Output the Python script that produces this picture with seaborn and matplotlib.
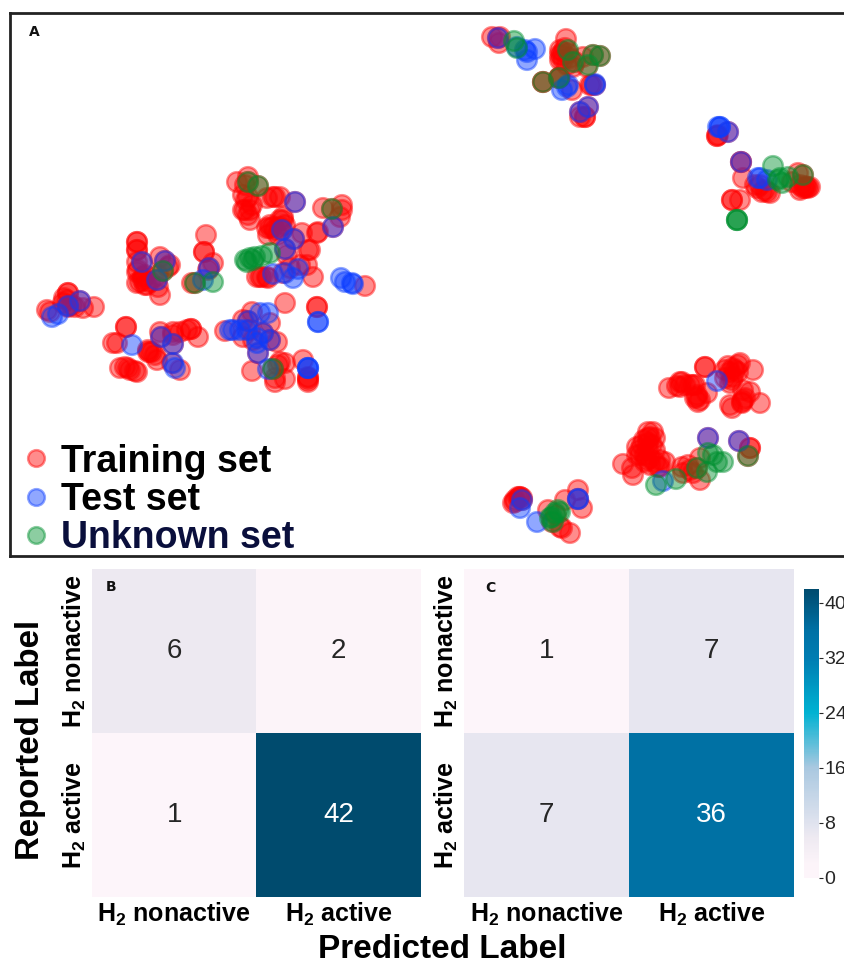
import numpy as np
import pandas as pd
import seaborn as sns
import matplotlib.pyplot as plt
from matplotlib.colors import LinearSegmentedColormap

# embedding coordinates
train_pts = [(47,310),(50,312),(68,293),(67,300),(63,303),(75,307),(83,308),(94,307),(68,307),(68,293),(64,298),(72,305),
    (126,327),(126,327),(117,343),(113,343),(120,368),(128,368),(137,372),(152,352),(148,350),(157,360),(160,332),(173,335),(191,329),(191,329),(198,337),(180,332),(180,370),(172,363),(150,352),(155,355),(148,352),(125,367),(130,370),(135,371),(161,337),(173,344),(173,332),(187,330),
    (137,242),(137,242),(137,250),(137,250),(137,262),(138,270),(137,283),(143,280),(147,285),(160,257),(170,265),(158,287),(160,295),(168,267),(143,277),(140,282),(145,275),(150,282),(145,285),(137,272),(142,262),(165,261),(157,280),(158,275),
    (206,235),(204,252),(204,252),(213,263),(192,283),(208,270),(209,268),(195,283),(163,271),
    (237,182),(248,177),(245,185),(248,197),(243,210),(250,210),(250,220),(273,197),(280,197),(267,198),(283,217),(273,227),(270,228),(280,227),(283,220),(267,228),(302,233),(317,233),(323,208),(342,205),(340,217),(310,250),(308,250),(287,255),(307,265),(313,277),(260,277),(267,277),(257,277),(283,273),
    (245,210),(248,215),(252,205),(243,195),(246,200),(275,197),(270,225),(275,230),(278,235),(285,225),(268,235),(280,220),(262,277),(268,278),(248,182),(258,186),(332,209),(295,202),(282,230),(294,239),(285,249),(333,227),(318,232),(342,210),(290,268),(300,265),
    (285,303),(225,331),(252,312),(243,320),(270,323),(243,337),(277,342),(253,340),(252,371),(285,363),(278,365),(275,382),(275,378),(285,379),(303,360),(308,377),(308,382),(308,380),(308,378),(317,307),(317,307),(365,286),(248,321),(270,340),(258,353),(273,369),(280,362),(250,330),(263,333),(80,301),(68,306),
    (492,37),(500,37),(499,43),(498,38),(566,39),(563,52),(560,60),(568,53),(573,67),(563,60),(560,50),(583,57),(587,67),(592,85),(590,85),(572,90),(560,77),(585,117),(580,117),(585,117),(565,48),(562,55),(570,58),(575,62),(567,65),(560,55),(543,82),(543,82),(559,78),(559,78),(600,56),(593,55),(588,107),(580,112),(595,85),
    (743,178),(717,136),(718,135),(717,136),(732,200),(732,200),(740,200),(757,188),(762,192),(767,192),(798,173),(807,187),(808,188),(803,188),(792,182),(741,162),(741,162),(760,185),(765,190),(755,185),(770,193),(805,188),(805,186),(800,185),(810,187),(800,190),(803,175),(728,132),
    (669,388),(677,386),(682,382),(680,387),(693,385),(705,367),(705,367),(698,402),(697,397),(707,393),(725,370),(733,368),(738,365),(740,363),(733,377),(730,383),(753,370),(732,408),(730,405),(743,390),(750,392),(742,403),(743,400),(760,403),(725,378),(730,372),(735,370),(738,372),(728,366),(732,380),(742,402),(745,398),(695,385),(690,385),(685,385),(680,382),(697,395),(700,400),(695,398),
    (623,464),(632,468),(633,475),(648,438),(648,443),(655,438),(640,450),(637,455),(647,460),(650,465),(660,460),(658,467),(682,467),(683,473),(693,473),(700,480),(700,458),(750,448),(750,448),(739,441),(708,438),(697,468),(748,456),
    (642,445),(648,450),(645,455),(652,445),(655,450),(650,458),(640,455),(655,462),(645,462),(648,432),(653,432),(637,447),(660,467),(665,462),(644,440),(650,437),(690,470),(688,465),
    (520,497),(515,502),(513,503),(520,497),(578,490),(582,508),(565,500),(570,533),(560,527),(562,528),(548,510),(522,498),(515,500),(518,497),(556,515),(578,499),(522,500),(552,522)]
test_pts = [(52,317),(58,314),(68,306),(80,301),(132,345),(161,337),(173,344),(173,363),(175,368),(142,262),(165,261),(157,280),(209,268),(203,280),
    (295,202),(282,230),(294,239),(285,249),(333,227),(298,269),(285,273),(273,274),(293,278),(341,278),(345,282),(353,284),(352,283),
    (230,330),(233,330),(240,330),(248,321),(260,313),(268,313),(247,330),(257,338),(263,333),(270,340),(257,343),(258,353),(318,322),(318,322),(308,368),(308,368),(308,368),(268,369),
    (498,38),(517,47),(525,50),(535,49),(527,60),(527,52),(568,85),(562,90),(567,87),(595,85),(595,84),(588,107),(580,112),
    (720,127),(720,127),(718,127),(728,132),(741,162),(760,178),(758,178),(767,180),
    (717,381),(663,481),(708,438),(739,441),(522,500),(520,508),(537,522),(578,499),(578,499)]
unknown_pts = [(248,182),(258,186),(332,209),(163,271),(195,283),(213,282),(270,253),(247,262),(250,258),(255,257),(262,256),(253,260),(245,260),(273,369),
    (514,41),(517,48),(568,50),(573,62),(588,65),(593,55),(600,56),(543,82),(559,78),(737,220),(737,220),(737,220),(773,166),(780,178),(782,183),(778,180),(788,177),(803,175),
    (656,485),(676,479),(697,468),(707,472),(708,453),(713,455),(717,462),(723,462),(748,456),(550,518),(555,513),(558,510),(552,517),(560,512),(553,522)]

set_names = ['Training set', 'Test set', 'Unknown set']
set_colors = ['#ff0000', '#0a3cff', '#009030']

cm_b = [[6, 2], [1, 42]]
cm_c = [[1, 7], [7, 36]]
pred_labels = [r'$\mathbf{H_2}$ nonactive', r'$\mathbf{H_2}$ active']
rep_labels = [r'$\mathbf{H_2}$ nonactive', r'$\mathbf{H_2}$ active']
cbar_ticks = [0, 8, 16, 24, 32, 40]

sns.set_theme(style='white')
plt.rcParams['font.family'] = ['Liberation Sans', 'DejaVu Sans']
plt.rcParams['mathtext.fontset'] = 'custom'
plt.rcParams['mathtext.bf'] = 'Liberation Sans:bold'
plt.rcParams['mathtext.rm'] = 'Liberation Sans'

W, H = 845, 966
fig = plt.figure(figsize=(W / 100, H / 100), dpi=100)

def box(x0, y0, x1, y1):
    return [x0 / W, 1 - y1 / H, (x1 - x0) / W, (y1 - y0) / H]

# panel A
ax = fig.add_axes(box(10, 13, 850, 556))
pts = pd.DataFrame(train_pts + test_pts + unknown_pts, columns=['x', 'y'])
pts['set'] = [set_names[0]] * len(train_pts) + [set_names[1]] * len(test_pts) + [set_names[2]] * len(unknown_pts)
sns.scatterplot(data=pts, x='x', y='y', hue='set', hue_order=set_names, palette=set_colors,
                s=200, alpha=0.45, linewidth=1.8, edgecolor='face', ax=ax)
ax.set_xlim(10, 850)
ax.set_ylim(556, 13)
ax.set(xlabel='', ylabel='', xticks=[], yticks=[])
for sp in ax.spines.values():
    sp.set_color('#222222')
    sp.set_linewidth(2)
handles, labels = ax.get_legend_handles_labels()
leg = ax.legend(handles, labels, loc='lower left', frameon=False, markerscale=0.85,
                bbox_to_anchor=(15 / 840, 0.0), borderaxespad=0, borderpad=0, handlelength=0.6,
                handletextpad=0.36, labelspacing=0.06, prop={'weight': 'bold', 'size': 27})
for t, c in zip(leg.get_texts(), ['black', 'black', '#0a0f3c']):
    t.set_color(c)

# confusion matrices
cmap = LinearSegmentedColormap.from_list('cm', [(0, '#fdf5fa'), (2 / 42, '#fcf4f9'), (6 / 42, '#ede9f1'),
                                               (7 / 42, '#e6e6f0'), (16 / 42, '#a9c8e0'),
                                               (24 / 42, '#00b2d2'), (32 / 42, '#007db2'),
                                               (36 / 42, '#0071a5'), (1, '#004b6e')])
ax_b = fig.add_axes(box(92, 569, 421, 897))
ax_c = fig.add_axes(box(464, 569, 794, 897))
cax = fig.add_axes(box(804, 589, 819, 878))
annot_kw = {'size': 20}
sns.heatmap(cm_b, ax=ax_b, cmap=cmap, vmin=0, vmax=42, annot=True, annot_kws=annot_kw, cbar=False)
sns.heatmap(cm_c, ax=ax_c, cmap=cmap, vmin=0, vmax=42, annot=True, annot_kws=annot_kw, cbar_ax=cax,
            cbar_kws={'ticks': cbar_ticks})
for a in (ax_b, ax_c):
    a.set_xticklabels(pred_labels, fontsize=18, fontweight='bold', color='black')
    a.set_yticklabels(rep_labels, fontsize=18, fontweight='bold', color='black', rotation=90, va='center')
    a.tick_params(length=0, pad=3)
cax.tick_params(labelsize=14, length=3, width=0.8, pad=1, colors='#262626')
ax_c.collections[0].colorbar.outline.set_visible(False)

fig.text(31 / W, 1 - 740 / H, 'Reported Label', rotation=90, fontsize=23.8, fontweight='bold',
         ha='center', va='center', color='black')
fig.text(442 / W, 1 - 949 / H, 'Predicted Label', fontsize=24, fontweight='bold',
         ha='center', va='center', color='black')
for lab, x, y in [('A', 34, 32), ('B', 111, 587), ('C', 490, 588)]:
    fig.text(x / W, 1 - y / H, lab, fontsize=10, fontweight='bold', family='DejaVu Sans',
             ha='center', va='center', color='#111111')

fig.savefig('out.png', dpi=100)
